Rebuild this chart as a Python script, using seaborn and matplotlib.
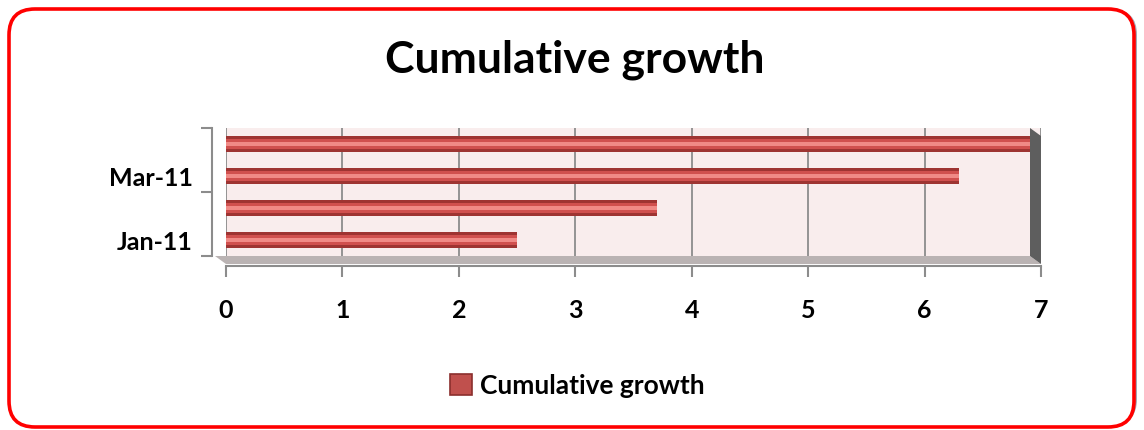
"""
Cumulative growth - horizontal 'cylinder' bar chart, Excel-like styling.
"""
import numpy as np
import pandas as pd

import matplotlib
matplotlib.use('Agg')
import matplotlib.pyplot as plt
from matplotlib.patches import FancyBboxPatch, Polygon, Patch
from matplotlib.transforms import IdentityTransform
import seaborn as sns

sns.set_style('white')
plt.rcParams['font.family'] = ['Lato', 'DejaVu Sans']
plt.rcParams['text.color'] = 'black'

# ── Data ─────────────────────────────────────────────────────────────────────
months = ['Jan-11', 'Feb-11', 'Mar-11', 'Apr-11']
growth = [2.5, 3.7, 6.3, 7.0]
shown_labels = {'Jan-11': 'Jan-11', 'Mar-11': 'Mar-11'}
x_ticks = [0, 1, 2, 3, 4, 5, 6, 7]
series_name = 'Cumulative growth'
title = 'Cumulative growth'

df = pd.DataFrame({'month': months, 'growth': growth})
order = months[::-1]

W, H = 1144, 430
fig = plt.figure(figsize=(W / 100, H / 100), dpi=100)

# ── Rounded red frame with shadow ────────────────────────────────────────────
shadow = FancyBboxPatch((13, 5), W - 20, H - 14,
                        boxstyle='round,pad=0,rounding_size=26',
                        transform=IdentityTransform(), facecolor='#56657a',
                        edgecolor='none', alpha=0.55, zorder=0)
frame = FancyBboxPatch((9, 3), W - 19, H - 12,
                       boxstyle='round,pad=0,rounding_size=26',
                       transform=IdentityTransform(), facecolor='white',
                       edgecolor='#ff0000', linewidth=2.6, zorder=1)
fig.patches.extend([shadow, frame])

fig.text(575 / W, 1 - 60 / H, title, ha='center', va='center',
         fontsize=32, fontweight='bold', color='black')

# ── Axes (back wall) ─────────────────────────────────────────────────────────
x0, x1, ytop, ybot = 226, 1041, 128, 256
ax = fig.add_axes([x0 / W, 1 - ybot / H, (x1 - x0) / W, (ybot - ytop) / H])
ax.set_facecolor('#f9eded')
ax.set_zorder(2)

# cylinder look: dark body, mid band, highlight
for col, w, z in [('#9e3432', 0.47, 3), ('#d0504e', 0.33, 4), ('#f08a86', 0.10, 5)]:
    sns.barplot(data=df, x='growth', y='month', order=order, orient='h',
                color=col, width=w, saturation=1, linewidth=0,
                edgecolor='none', ax=ax, zorder=z)

ax.set_xlim(0, 7)
ax.set_ylim(3.5, -0.5)
ax.xaxis.grid(True, color='#8c8c8c', linewidth=1.3, zorder=1)
ax.set_axisbelow(True)

ax.tick_params(axis='y', which='major', left=True, length=8, color='#8c8c8c',
               width=1.5)
ax.tick_params(axis='y', which='minor', left=False, length=0, pad=14)
ax.tick_params(axis='x', bottom=True, length=8, color='#8c8c8c', width=1.5,
               pad=16)

ax.set_xticks(x_ticks)
ax.set_xticklabels([str(t) for t in x_ticks])
# y: tick marks at category boundaries, labels on categories
ax.set_yticks([-0.5, 1.5, 3.5])
ax.set_yticklabels([])
ax.set_yticks(range(len(order)), minor=True)
ax.set_yticklabels([shown_labels.get(m, '') for m in order], minor=True)
ax.set_xlabel('')
ax.set_ylabel('')

for s in ['top', 'right']:
    ax.spines[s].set_visible(False)
ax.spines['left'].set_position(('outward', 10))
ax.spines['bottom'].set_position(('outward', 7))
for s in ['left', 'bottom']:
    ax.spines[s].set_color('#8c8c8c')
    ax.spines[s].set_linewidth(1.5)

# floor and right side wall (pseudo 3D)
dx, dy = 11 / (x1 - x0), 8 / (ybot - ytop)
floor = Polygon([(-dx, 0), (1 - dx, 0), (1, -dy), (0, -dy)], closed=True,
                transform=ax.transAxes, facecolor='#bab3b3', edgecolor='none',
                clip_on=False, zorder=0)
wall = Polygon([(1 - dx, 1.0), (1, 1 - dy), (1, -dy), (1 - dx, 0)], closed=True,
               transform=ax.transAxes, facecolor='#5e5e5e', edgecolor='none',
               clip_on=False, zorder=6)
ax.add_patch(floor)
ax.add_patch(wall)

# ── Legend ───────────────────────────────────────────────────────────────────
handle = Patch(facecolor='#c0504d', edgecolor='#8b2f2d', linewidth=1.2)
leg = fig.legend([handle], [series_name], loc='center', frameon=False,
                 bbox_to_anchor=(577 / W, 1 - 386 / H),
                 prop={'size': 19, 'weight': 'bold'},
                 handlelength=0.85, handleheight=0.85, handletextpad=0.3)
for t in leg.get_texts():
    t.set_color('black')

for lab in ax.get_xticklabels() + ax.get_yticklabels(minor=True):
    lab.set_fontsize(18)
    lab.set_fontweight('bold')
    lab.set_color('black')

fig.savefig('out.png', dpi=100)
